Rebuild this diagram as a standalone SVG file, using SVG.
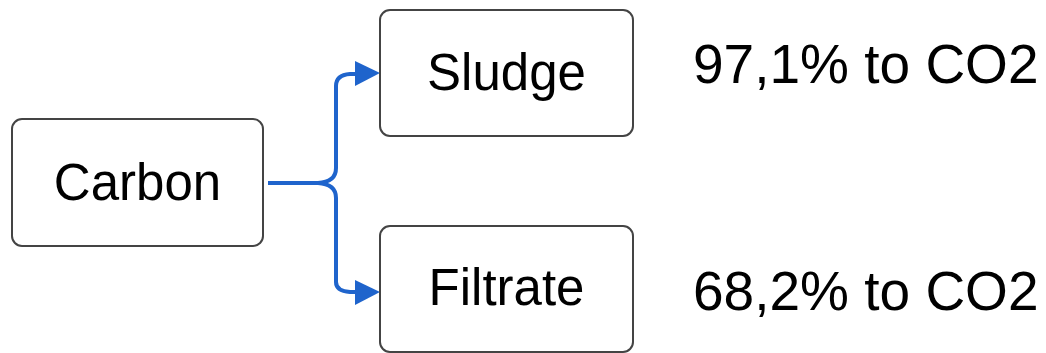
<svg xmlns="http://www.w3.org/2000/svg" width="1046" height="353" viewBox="0 0 1046 353">
  <style>
    .box { fill: #ffffff; stroke: #444444; stroke-width: 2; }
    .lbl { font-family: "Liberation Sans", Arial, sans-serif; font-size: 51px; fill: #000000; text-anchor: middle; }
    .note { font-family: "Liberation Sans", Arial, sans-serif; font-size: 55px; fill: #000000; }
    .conn { fill: none; stroke: #1f64cc; stroke-width: 4; stroke-linejoin: round; }
    .head { fill: #1f64cc; }
  </style>
  <rect width="1046" height="353" fill="#ffffff"/>
  <g id="connectors">
    <path class="conn" d="M268,183 H318 Q336,182 336,168 V86 Q336,75 350,74 H358"/>
    <path class="conn" d="M268,183 H318 Q336,184 336,198 V282 Q336,291 350,292 H358"/>
    <polygon class="head" points="380,73 355,61 355,86"/>
    <polygon class="head" points="380,292 355,280 355,305"/>
  </g>
  <g id="node-carbon">
    <rect class="box" x="12" y="119" width="251" height="127" rx="10"/>
    <text class="lbl" x="137.5" y="200">Carbon</text>
  </g>
  <g id="node-sludge">
    <rect class="box" x="380" y="10" width="253" height="126" rx="10"/>
    <text class="lbl" x="506.5" y="90">Sludge</text>
  </g>
  <g id="node-filtrate">
    <rect class="box" x="380" y="226" width="253" height="126" rx="10"/>
    <text class="lbl" x="506.5" y="305">Filtrate</text>
  </g>
  <g id="note-sludge">
    <text class="note" x="693" y="83">97,1% to CO2</text>
  </g>
  <g id="note-filtrate">
    <text class="note" x="693" y="310">68,2% to CO2</text>
  </g>
</svg>
